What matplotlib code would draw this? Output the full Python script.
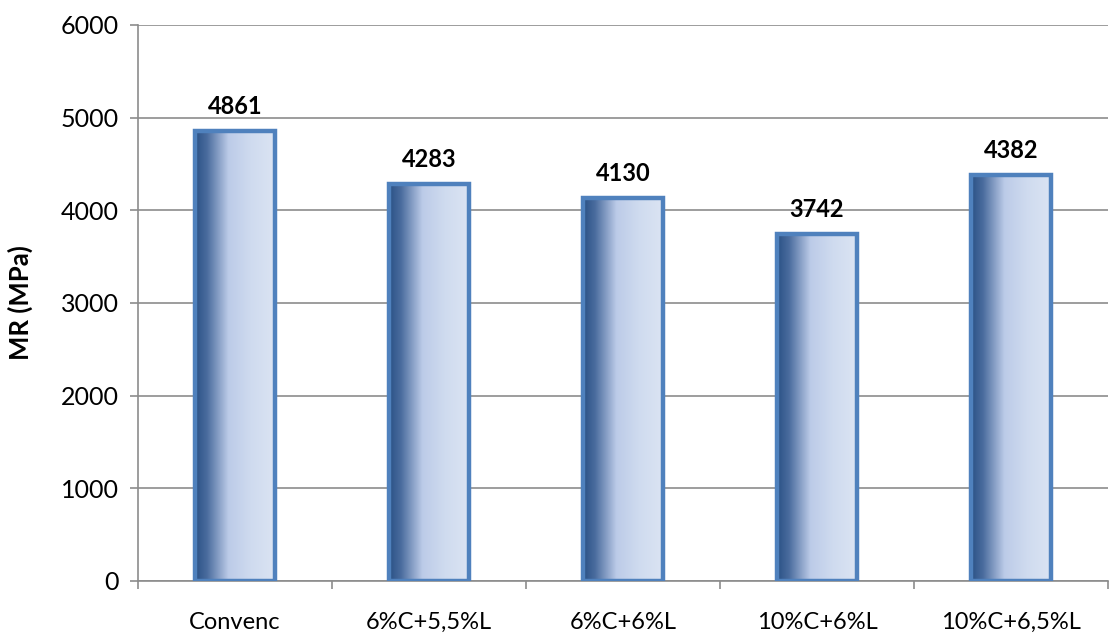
import matplotlib.pyplot as plt
import numpy as np
from matplotlib.colors import LinearSegmentedColormap

categories = ["Convenc", "6%C+5,5%L", "6%C+6%L", "10%C+6%L", "10%C+6,5%L"]
mr_values = [4861, 4283, 4130, 3742, 4382]

plt.rcParams['font.family'] = ['Lato', 'DejaVu Sans']

fig = plt.figure(figsize=(11.1, 6.34), dpi=100)
ax = fig.add_axes([138 / 1110, 53 / 634, 970 / 1110, 556 / 634])

# horizontal gradient used inside each bar
grad = LinearSegmentedColormap.from_list(
    "bar_grad",
    [(0.0, "#2a5185"), (0.15, "#4a6c9e"), (0.42, "#bccbe8"), (0.7, "#cfdbef"), (1.0, "#dbe4f3")])

x = np.arange(len(categories))
bars = ax.bar(x, mr_values, width=0.41, facecolor="none", edgecolor="#4f81bd",
              linewidth=3.2, zorder=3)

ramp = np.linspace(0, 1, 256).reshape(1, -1)
for b in bars:
    x0, w, h = b.get_x(), b.get_width(), b.get_height()
    im = ax.imshow(ramp, cmap=grad, aspect="auto", extent=[x0, x0 + w, 0, h],
                   zorder=2, interpolation="bilinear")
    im.set_clip_path(b)
    ax.text(x0 + w / 2, h + 140, str(int(h)), ha="center", va="bottom",
            fontsize=17, fontweight="bold")

ax.set_xlim(-0.5, len(categories) - 0.5)
ax.set_ylim(0, 6000)
ax.set_yticks(np.arange(0, 6001, 1000))
ax.yaxis.grid(True, color="#8c8c8c", linewidth=1.2, zorder=0)
ax.set_axisbelow(True)

ax.set_xticks(x)
ax.set_xticklabels(categories, fontsize=17)
ax.set_xticks(np.arange(-0.5, len(categories)), minor=True)
ax.tick_params(axis="x", which="major", length=0, pad=22)
ax.tick_params(axis="x", which="minor", length=6, color="#8c8c8c", width=1.2)
ax.tick_params(axis="y", length=6, color="#8c8c8c", width=1.2, labelsize=18, pad=8)

for side in ["top", "right"]:
    ax.spines[side].set_visible(False)
for side in ["left", "bottom"]:
    ax.spines[side].set_color("#8c8c8c")
    ax.spines[side].set_linewidth(1.2)

ax.set_ylabel("MR (MPa)", fontsize=18.5, fontweight="bold", va="center")
ax.yaxis.set_label_coords(-0.1216, 0.5)

fig.savefig("out.png", dpi=100)
